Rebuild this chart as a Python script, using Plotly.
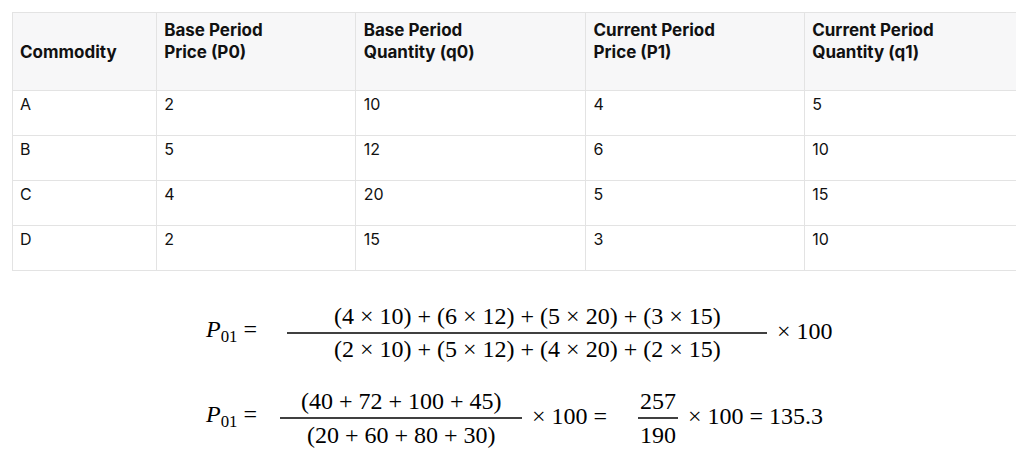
import plotly.graph_objects as go

W, H = 1024, 461
OFF = 8  # page body margin shifts the drawing by this many pixels

# table data
headers = ["Commodity", "Base Period<br>Price (P0)", "Base Period<br>Quantity (q0)",
           "Current Period<br>Price (P1)", "Current Period<br>Quantity (q1)"]
commodities = ["A", "B", "C", "D"]
p0 = [2, 5, 4, 2]
q0 = [10, 12, 20, 15]
p1 = [4, 6, 5, 3]
q1 = [5, 10, 15, 10]


def px(x, y):
    return (x - OFF) / W, 1 - (y - OFF) / H


fig = go.Figure()

head_vals = []
for h in headers:
    parts = h.split("<br>")
    if len(parts) == 1:
        parts = ["\u00a0"] + parts
    head_vals.append("<br>".join("<b>" + p + "</b>" for p in parts))

x0, y0 = px(12, 272)
x1, y1 = px(1032, 12)
fig.add_trace(go.Table(
    domain=dict(x=[x0, min(x1, 1)], y=[y0, y1]),
    columnwidth=[143, 198, 228, 217, 226],
    header=dict(
        values=head_vals,
        fill_color="#f7f7f8",
        line_color="#e3e3e3",
        align="left",
        height=78,
        font=dict(family="Inter", size=17, color="#111"),
    ),
    cells=dict(
        values=[commodities, p0, q0, p1, q1],
        fill_color="white",
        line_color="#e3e3e3",
        align="left",
        height=45,
        font=dict(family="Inter", size=16, color="#111"),
    ),
))

serif = dict(family="Liberation Serif", size=24, color="black")


def txt(x, y, s, anchor="center"):
    ax, ay = px(x, y)
    fig.add_annotation(x=ax, y=ay, xref="paper", yref="paper", text=s,
                       showarrow=False, xanchor=anchor, yanchor="middle", font=serif)


def bar(xa, xb, y):
    a0, b0 = px(xa, y)
    a1, _ = px(xb, y)
    fig.add_shape(type="line", xref="paper", yref="paper", x0=a0, x1=a1, y0=b0, y1=b0,
                  line=dict(color="black", width=1.3))


# first formula
txt(203, 331, "<i>P</i><sub>01</sub> =", "left")
txt(527, 316, "(4 × 10) + (6 × 12) + (5 × 20) + (3 × 15)")
bar(287, 767, 333)
txt(527, 349, "(2 × 10) + (5 × 12) + (4 × 20) + (2 × 15)")
txt(775, 331, "× 100", "left")

# second formula
txt(203, 416, "<i>P</i><sub>01</sub> =", "left")
txt(401, 401, "(40 + 72 + 100 + 45)")
bar(280, 522, 418)
txt(401, 435, "(20 + 60 + 80 + 30)")
txt(530, 416, "× 100 =", "left")
txt(658, 401, "257")
bar(638, 678, 418)
txt(658, 435, "190")
txt(686, 416, "× 100 = 135.3", "left")

fig.update_layout(width=W, height=H, margin=dict(l=0, r=0, t=0, b=0),
                  paper_bgcolor="white", plot_bgcolor="white")

fig.write_html("out.html")
